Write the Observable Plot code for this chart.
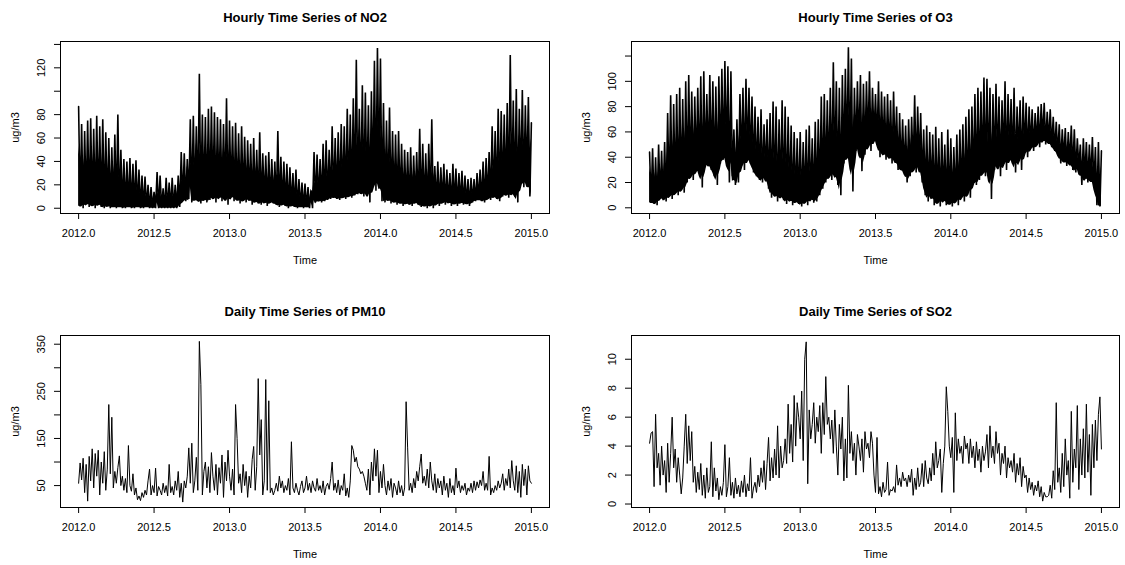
<!DOCTYPE html>
<html><head><meta charset="utf-8">
<script src="https://cdn.jsdelivr.net/npm/d3@7"></script>
<script src="https://cdn.jsdelivr.net/npm/@observablehq/plot@0.6"></script>
<style>
html,body{margin:0;padding:0;background:#fff;}
#chart{position:relative;width:1125px;height:565px;overflow:hidden;background:#fff;}
.panel{position:absolute;}
</style></head><body><div id="chart"></div>
<script>
// time index of every series: start 2012.0, one value per 0.01 year
const startYear = 2012;
const stepYears = 0.01;
const xTicks = [2012, 2012.5, 2013, 2013.5, 2014, 2014.5, 2015];

const no2Values = [
87,2,72,0,66,5,75,1,77,3,
68,0,79,4,70,1,76,0,65,2,
60,0,52,1,63,0,80,1,50,0,
42,0,40,1,43,0,38,0,41,1,
33,0,28,0,27,1,20,0,18,0,
14,0,31,0,28,0,17,0,26,0,
22,0,26,0,20,0,28,1,48,6,
47,6,42,8,76,5,79,7,70,6,
115,4,80,8,78,5,85,7,87,10,
82,5,78,11,76,6,72,9,94,3,
75,12,70,6,73,8,64,4,70,7,
61,5,58,9,55,3,60,6,50,4,
65,3,47,6,45,2,48,5,42,4,
40,3,66,1,44,3,40,2,38,0,
35,2,30,1,33,0,25,1,22,0,
21,1,18,0,15,0,48,5,46,6,
42,5,55,6,58,7,50,8,70,9,
60,8,65,7,72,9,70,8,85,10,
80,9,94,11,127,12,85,13,105,10,
99,14,88,5,100,20,126,15,137,27,
128,6,90,5,75,8,86,4,66,6,
63,3,66,5,55,2,50,4,48,3,
52,2,45,5,48,3,68,1,55,2,
47,0,55,3,76,0,36,4,40,2,
35,5,38,3,33,6,30,2,38,4,
34,2,30,5,32,3,28,4,25,2,
26,5,25,6,30,7,33,6,40,5,
43,8,48,7,70,10,66,8,85,6,
83,10,80,12,90,9,131,13,92,10,
102,5,85,22,101,18,88,25,95,10,
73];

const o3Values = [
44,4,47,3,40,2,50,8,45,6,
52,5,75,10,89,7,82,12,90,10,
95,15,86,12,100,20,105,25,92,22,
88,30,95,28,104,16,108,32,90,35,
105,30,100,25,96,18,104,35,110,38,
116,40,112,20,108,25,62,18,70,20,
90,35,95,30,102,40,95,35,88,28,
80,25,72,22,78,20,66,26,70,15,
75,8,84,12,80,5,70,10,85,6,
80,3,72,8,65,2,60,5,55,3,
60,1,52,5,62,2,65,8,55,4,
68,5,70,10,88,15,90,20,85,25,
95,22,115,30,100,18,95,10,105,35,
110,40,127,38,118,13,95,45,100,48,
105,29,98,42,100,50,108,45,95,55,
90,50,100,40,92,45,88,38,90,42,
85,35,92,40,80,30,75,30,70,28,
65,20,70,25,72,30,89,28,80,35,
75,20,62,10,65,5,60,12,58,2,
64,5,55,1,60,8,50,2,62,3,
55,1,48,6,58,2,62,10,66,5,
72,12,78,8,80,20,90,18,95,22,
92,28,103,25,102,30,95,7,90,30,
98,35,88,25,85,38,100,30,90,40,
86,35,95,28,80,42,85,30,88,45,
83,40,80,48,78,45,75,50,80,48,
82,55,83,50,76,52,78,48,72,45,
68,42,66,35,62,38,63,33,60,36,
65,30,62,28,55,32,50,18,55,25,
52,20,50,22,56,18,48,2,52,1,
45];

const pm10Values = [
55,98,62,108,35,95,17,112,60,128,
45,118,70,125,30,100,55,122,40,85,
222,75,195,45,80,55,88,113,50,70,
40,65,35,135,50,38,75,30,45,20,
28,18,35,25,40,30,60,85,30,50,
35,87,28,48,40,30,55,35,50,28,
95,35,48,30,60,40,80,25,55,15,
60,45,70,130,55,140,35,60,110,40,
356,265,30,80,100,45,90,35,120,70,
40,95,30,88,55,115,25,100,60,125,
70,40,85,30,222,150,55,75,35,95,
50,80,25,70,45,105,133,40,90,277,
115,190,30,60,275,40,230,35,45,30,
40,55,38,70,45,60,35,50,40,65,
30,143,45,35,55,40,30,48,60,35,
45,70,40,55,35,60,45,38,65,40,
50,35,60,30,48,55,42,65,100,40,
55,35,62,30,50,40,75,28,45,25,
60,135,125,100,110,90,85,75,80,70,
55,40,85,30,100,60,128,70,125,35,
80,45,95,50,30,60,40,65,25,55,
45,30,60,35,50,28,45,228,130,40,
55,35,65,45,80,60,90,117,55,70,
50,85,45,100,60,40,75,35,65,45,
60,30,70,40,55,25,65,35,50,30,
87,45,60,35,50,40,55,30,45,38,
55,35,60,40,58,45,62,50,80,40,
55,40,112,30,45,35,50,40,60,45,
55,75,40,65,50,85,45,103,60,40,
92,35,80,25,95,50,85,30,92,60,
55];

const so2Values = [
4.2,4.9,5.0,1.2,6.2,2.5,3.5,1.3,4.0,2.0,
3.0,0.8,4.2,1.5,3.5,6.0,2.5,3.8,1.5,3.2,
2.0,0.7,1.8,4.0,6.2,2.8,5.4,3.0,5.0,1.5,
2.6,0.8,2.2,1.0,2.8,0.6,2.0,0.4,2.5,0.8,
1.2,4.3,0.5,2.5,0.9,1.8,0.3,1.2,0.6,1.5,
4.1,0.5,1.2,3.2,0.6,1.5,0.4,1.8,0.7,1.3,
0.5,1.6,0.8,2.0,0.5,1.4,0.9,3.2,0.4,1.1,
1.5,0.8,2.0,1.2,2.5,1.5,3.0,1.0,2.8,4.6,
1.6,3.2,1.8,3.8,2.0,5.4,1.8,4.0,2.5,3.0,
4.5,2.8,6.9,3.5,5.5,2.9,7.5,4.0,7.0,6.0,
4.5,7.8,3.0,10.0,11.2,1.4,6.5,4.5,5.5,7.0,
4.2,6.0,5.0,6.8,3.5,7.0,4.8,8.8,5.5,6.0,
4.5,5.8,3.5,6.5,4.0,2.0,5.5,3.8,6.0,1.6,
4.5,1.8,8.2,3.5,5.0,3.0,4.2,2.0,4.8,4.0,
3.0,4.5,2.2,5.0,3.8,4.2,3.2,5.0,4.2,2.0,
0.8,4.6,0.7,1.2,0.5,1.5,0.8,1.0,2.9,0.6,
1.0,0.9,1.2,0.8,2.7,1.3,1.8,1.2,2.2,1.6,
1.8,1.2,2.0,1.5,2.4,0.6,1.8,1.0,2.5,1.2,
1.5,2.8,1.2,3.0,1.8,1.4,2.5,1.6,3.5,2.0,
4.3,2.5,3.0,3.8,0.8,2.8,4.0,8.1,6.4,4.0,
3.2,4.6,0.8,6.3,3.0,4.5,3.5,4.0,2.8,4.7,
3.8,4.2,2.8,4.5,3.2,4.0,2.5,4.3,3.0,3.8,
2.2,4.0,3.0,3.6,4.8,2.5,5.4,3.2,4.0,2.8,
5.0,3.5,4.2,2.0,3.5,2.8,4.0,1.8,3.2,2.5,
3.0,2.2,3.5,1.5,2.8,2.0,3.2,1.2,2.6,1.8,
2.0,0.8,1.8,1.0,1.5,0.6,1.3,0.9,1.6,0.5,
1.2,0.2,0.8,0.5,0.5,0.6,1.3,0.4,2.3,1.0,
7.0,1.5,2.5,0.8,3.5,1.2,4.5,2.0,3.0,0.4,
6.4,1.5,3.8,2.5,6.8,1.0,4.5,2.0,5.2,1.8,
6.9,2.2,4.8,0.6,5.5,2.5,5.8,3.0,6.2,7.4,
3.8];

const titles = ["Hourly Time Series of NO2", "Hourly Time Series of O3", "Daily Time Series of PM10", "Daily Time Series of SO2"];
const no2Ticks = [0,20,40,60,80,100,120,140];
const no2Labels = [0,20,40,60,80,120];
const o3Ticks = [0,20,40,60,80,100,120];
const o3Labels = [0,20,40,60,80,100];
const pm10Ticks = [50,100,150,200,250,300,350];
const pm10Labels = [50,150,250,350];
const so2Ticks = [0,2,4,6,8,10];
const so2Labels = [0,2,4,6,8,10];
const yLabel = "ug/m3";
const xLabel = "Time";

const cols = [
  {left: 0, width: 562, marginLeft: 60, marginRight: 13},
  {left: 562, width: 563, marginLeft: 69, marginRight: 6}
];
const rows = [
  {top: 0, height: 282, marginTop: 41, marginBottom: 69},
  {top: 282, height: 283, marginTop: 53, marginBottom: 58}
];

const specs = [
  {title: titles[0], values: no2Values, yDomain: [-4.5, 142.5], ticks: no2Ticks, labels: no2Labels, col: 0, row: 0, sw: 1.6, dense: true},
  {title: titles[1], values: o3Values, yDomain: [-4.5, 131.5], ticks: o3Ticks, labels: o3Labels, col: 1, row: 0, sw: 1.6, dense: true},
  {title: titles[2], values: pm10Values, yDomain: [3.5, 368.5], ticks: pm10Ticks, labels: pm10Labels, col: 0, row: 1, sw: 1, dense: false},
  {title: titles[3], values: so2Values, yDomain: [-0.24, 11.64], ticks: so2Ticks, labels: so2Labels, col: 1, row: 1, sw: 1, dense: false}
];

const chart = document.getElementById("chart");
for (const s of specs) {
  const c = cols[s.col], r = rows[s.row];
  const data = s.values.map((v, i) => ({t: startYear + i * stepYears, v}));
  // for the hourly series the dense body of the trace: the band between the
  // mean trough level and the mean level of the read values (window of 5)
  const win = i => s.values.slice(Math.max(0, i - 2), i + 3);
  const body = s.dense ? data.map((d, i) => {
    const w = win(i), m = d3.mean(w);
    return {t: d.t, lo: d3.mean(w.filter(v => v <= m)), mid: m};
  }) : [];
  const svg = Plot.plot({
    width: c.width, height: r.height,
    marginLeft: c.marginLeft, marginRight: c.marginRight,
    marginTop: r.marginTop, marginBottom: r.marginBottom,
    style: {fontFamily: "'Liberation Sans', Arial, sans-serif", fontSize: "11px", color: "#000", background: "#fff", overflow: "visible"},
    x: {domain: [2011.88, 2015.12]},
    y: {domain: s.yDomain},
    marks: [
      Plot.areaY(body, {x: "t", y1: "lo", y2: "mid", fill: "#000"}),
      Plot.line(data, {x: "t", y: "v", stroke: "#000", strokeWidth: s.sw, strokeLinejoin: "miter", strokeMiterlimit: 2}),
      Plot.frame({stroke: "#000", strokeWidth: 1}),
      Plot.axisX({ticks: xTicks, tickFormat: d => d.toFixed(1), tickSize: 6, tickPadding: 10, fontSize: 11,
        label: xLabel, labelAnchor: "center", labelArrow: "none", labelOffset: 50}),
      Plot.axisY({ticks: s.ticks, tickFormat: d => s.labels.includes(d) ? String(d) : "", tickSize: 6, tickPadding: 10,
        tickRotate: -90, fontSize: 11, label: yLabel, labelAnchor: "center", labelArrow: "none", labelOffset: 49}),
      Plot.text([s.title], {frameAnchor: "top", lineAnchor: "middle", dy: -24, fontWeight: "bold", fontSize: 13, fill: "#000"})
    ]
  });
  const holder = document.createElement("div");
  holder.className = "panel";
  holder.style.left = c.left + "px";
  holder.style.top = r.top + "px";
  holder.appendChild(svg);
  chart.appendChild(holder);
}
</script></body></html>
